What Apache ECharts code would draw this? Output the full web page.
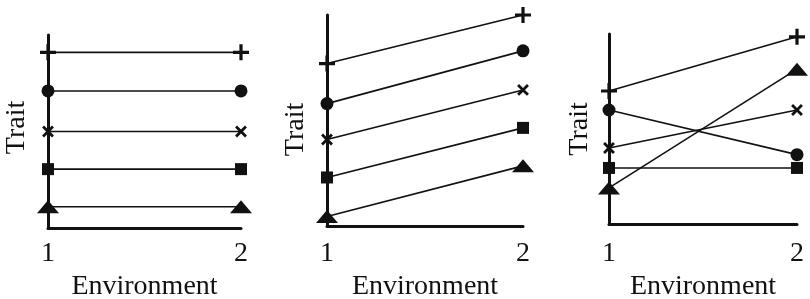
<!DOCTYPE html>
<html>
<head>
<meta charset="utf-8">
<script src="https://cdn.jsdelivr.net/npm/echarts@6/dist/echarts.min.js"></script>
<style>
  html, body { margin: 0; padding: 0; background: #fff; }
  #chart { width: 810px; height: 299px; }
</style>
</head>
<body>
<div id="chart"></div>
<script>
// environment levels (x axis categories)
const environments = ['1', '2'];

// trait values per genotype, one pair [env1, env2] per panel
const traitPlus = [[9.1, 9.1], [7.7, 10.0], [7.0, 9.85]];
const traitCircle = [[7.1, 7.1], [5.8, 8.3], [6.0, 3.65]];
const traitCross = [[5.0, 5.0], [4.1, 6.45], [4.0, 6.0]];
const traitSquare = [[3.05, 3.05], [2.3, 4.65], [2.95, 2.95]];
const traitTriangle = [[1.1, 1.1], [0.45, 2.85], [1.9, 8.15]];

const plusPath = 'path://M4,0h2v4h4v2h-4v4h-2v-4h-4v-2h4z';

const grids = [
  { left: 48, top: 35, width: 193, height: 193, outerBoundsMode: 'none' },
  { left: 327, top: 15, width: 196, height: 211, outerBoundsMode: 'none' },
  { left: 609, top: 34, width: 188, height: 190, outerBoundsMode: 'none' },
];
const labelMargin = [12, 14, 16];
const envGap = [38, 43, 47];
const traitGap = [17, 17, 15];
// [top, right, bottom, left] padding of the rotated "Trait" label
const traitPad = [[0, 0, 0, 8], [0, 18, 0, 0], [0, 0, 0, 0]];

const font = "'Liberation Serif', 'Times New Roman', serif";
const ink = '#111';

const markers = [
  { data: traitPlus, symbol: plusPath, size: 16, rotate: 0 },
  { data: traitCircle, symbol: 'circle', size: 13, rotate: 0 },
  { data: traitCross, symbol: plusPath, size: 14, rotate: 45 },
  { data: traitSquare, symbol: 'rect', size: 12, rotate: 0 },
  { data: traitTriangle, symbol: 'triangle', size: [22, 13], rotate: 0 },
];

const series = [];
grids.forEach((g, i) => {
  markers.forEach(m => {
    series.push({
      type: 'line',
      xAxisIndex: i,
      yAxisIndex: i,
      data: m.data[i],
      symbol: m.symbol,
      symbolSize: m.size,
      symbolRotate: m.rotate,
      showAllSymbol: true,
      clip: false,
      silent: true,
      animation: false,
      lineStyle: { color: ink, width: 1.6 },
      itemStyle: { color: ink, borderWidth: 0 },
    });
  });
});

const chart = echarts.init(document.getElementById('chart'));
chart.setOption({
  backgroundColor: '#fff',
  animation: false,
  grid: grids,
  xAxis: grids.map((g, i) => ({
    type: 'category',
    gridIndex: i,
    data: environments,
    boundaryGap: false,
    name: 'Environment',
    nameLocation: 'middle',
    nameGap: envGap[i],
    nameTextStyle: { fontFamily: font, fontSize: 28, color: ink },
    axisLine: { lineStyle: { color: ink, width: 3 } },
    axisTick: { show: false },
    axisLabel: { margin: labelMargin[i], fontFamily: font, fontSize: 28, color: ink },
    splitLine: { show: false },
  })),
  yAxis: grids.map((g, i) => ({
    type: 'value',
    gridIndex: i,
    min: 0,
    max: 10,
    name: 'Trait',
    nameLocation: 'middle',
    nameGap: traitGap[i],
    nameTextStyle: { fontFamily: font, fontSize: 28, color: ink, padding: traitPad[i] },
    axisLine: { show: true, lineStyle: { color: ink, width: 3 } },
    axisTick: { show: false },
    axisLabel: { show: false },
    splitLine: { show: false },
  })),
  series: series,
});
</script>
</body>
</html>
